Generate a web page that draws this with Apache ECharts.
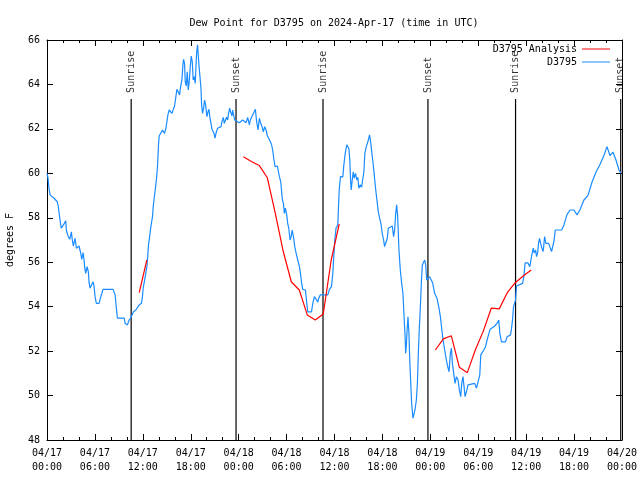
<!DOCTYPE html>
<html><head><meta charset="utf-8">
<script src="https://cdn.jsdelivr.net/npm/echarts@6/dist/echarts.min.js"></script>
<style>html,body{margin:0;padding:0;background:#fff}#c{width:640px;height:480px}</style>
</head><body><div id="c"></div>
<script>
// hours since 2024-04-17 00:00 UTC
const obsHours = [0,0.13,0.25,0.38,0.59,0.88,1.09,1.29,1.42,1.51,
1.63,1.79,2.01,2.17,2.35,2.42,2.63,2.85,3.05,3.17,
3.30,3.51,3.68,3.85,4.01,4.23,4.35,4.52,4.64,4.73,
4.85,5.02,5.18,5.27,5.39,5.61,5.77,5.90,6.02,6.18,
6.52,6.74,7.02,8.28,8.53,8.74,8.82,9.66,9.78,10.07,
10.28,10.5,10.66,10.83,11.13,11.54,11.83,11.95,12.04,12.17,
12.38,12.51,12.58,12.71,12.88,13.01,13.21,13.30,13.42,13.55,
13.71,13.84,13.96,14.05,14.30,14.46,14.59,14.71,14.89,15.01,
15.14,15.30,15.52,15.64,15.84,15.97,16.14,16.27,16.43,16.60,
16.72,16.90,17.02,17.10,17.22,17.31,17.44,17.56,17.69,17.81,
17.94,18.06,18.19,18.31,18.44,18.57,18.65,18.73,18.85,18.98,
19.10,19.28,19.36,19.48,19.61,19.73,19.86,20.03,20.16,20.28,
20.41,20.53,20.66,20.91,21.04,21.16,21.36,21.58,21.79,21.91,
22.08,22.20,22.33,22.49,22.62,22.74,22.87,22.99,23.17,23.24,
23.37,23.50,23.67,24.08,24.30,24.50,24.71,24.93,25.13,25.34,
25.46,25.63,25.75,25.97,26.09,26.25,26.43,26.59,26.76,26.93,
27.09,27.26,27.43,27.60,27.76,27.93,28.10,28.26,28.39,28.56,
28.73,28.85,28.98,29.10,29.27,29.39,29.48,29.60,29.73,29.85,
30.02,30.14,30.27,30.44,30.57,30.70,30.86,31.02,31.20,31.40,
31.61,31.74,31.86,32.02,32.36,32.53,32.65,33.12,33.28,33.49,
33.74,33.91,34.03,34.21,35.16,35.37,35.62,35.79,35.91,36.04,
36.19,36.42,36.50,36.59,36.75,36.92,37.04,37.17,37.34,37.54,
37.79,37.92,38.01,38.09,38.22,38.35,38.47,38.64,38.80,38.92,
39.05,39.22,39.39,39.55,39.68,39.80,39.98,40.18,40.39,40.55,
40.68,40.81,40.98,41.14,41.31,41.48,41.65,41.81,41.98,42.15,
42.27,42.49,42.61,42.74,42.90,43.24,43.40,43.53,43.65,43.78,
43.90,44.07,44.24,44.41,44.57,44.69,44.82,44.91,45.0,45.07,
45.20,45.32,45.41,45.53,45.66,45.82,45.95,46.07,46.25,46.38,
46.50,46.63,46.75,46.88,47.0,47.17,47.29,47.42,47.54,47.70,
47.92,48.13,48.29,48.54,48.83,49.05,49.26,49.42,49.59,49.80,
50.01,50.18,50.34,50.51,50.64,50.76,50.93,51.09,51.27,51.47,
51.64,51.81,51.93,52.09,52.22,52.35,52.52,52.72,52.94,53.56,
53.78,53.98,54.19,54.32,54.53,54.69,54.91,55.11,55.28,55.48,
55.70,56.07,56.28,56.41,56.57,56.70,56.91,57.41,57.62,57.79,
58.04,58.17,58.29,58.42,58.54,58.67,58.79,59.04,59.55,59.71,
59.87,60.21,60.46,60.59,60.75,60.88,61.0,61.18,61.30,61.43,
61.55,61.68,61.80,61.97,62.13,62.31,62.47,62.63,62.81,62.97,
63.18,63.38,63.51,63.64,63.97,64.44,64.73,65.1,65.48,65.98,
66.36,66.73,67.23,67.73,68.24,68.74,69.24,69.74,70.12,70.49,
70.87,71.25,71.62,71.87];
const obsDewpoint = [60.0,59.78,59.33,59.03,58.95,58.88,58.83,58.72,58.50,58.23,
57.90,57.53,57.48,57.75,57.86,57.45,57.18,57.03,57.37,57.0,
56.73,57.08,56.63,56.55,56.73,56.40,56.13,56.43,56.10,55.73,
55.50,55.80,55.57,55.08,54.83,54.83,55.12,54.90,54.45,54.15,
54.15,54.45,54.78,54.78,54.53,53.73,53.48,53.48,53.25,53.18,
53.40,53.50,53.50,53.77,53.85,54.08,54.15,54.45,54.83,55.08,
55.12,55.80,56.10,56.78,57.23,57.60,58.05,58.50,58.88,59.25,
59.75,60.33,61.28,61.68,61.73,61.95,61.95,61.80,62.03,62.33,
62.63,62.85,62.77,62.70,62.70,63.03,63.45,63.78,63.67,63.53,
63.87,64.23,64.88,65.13,64.95,64.12,63.93,64.57,63.75,64.12,
64.80,65.28,65.02,64.20,64.35,64.05,64.80,65.40,65.78,65.10,
64.57,63.83,63.08,62.70,62.93,63.30,63.08,62.55,62.77,62.88,
62.48,62.25,61.98,61.80,61.58,61.80,62.03,62.05,62.10,62.33,
62.52,62.25,62.22,62.52,62.40,62.70,62.93,62.77,62.58,62.85,
62.93,62.40,62.33,62.28,62.25,62.40,62.48,62.28,62.52,62.18,
62.40,62.49,62.63,62.70,62.88,62.33,61.95,62.48,62.25,62.10,
61.87,62.10,61.95,61.68,61.58,61.50,61.32,61.05,60.68,60.30,
60.24,60.33,60.07,59.85,59.62,59.12,58.80,58.65,58.20,58.43,
58.13,57.75,57.53,57.00,57.15,57.45,57.15,56.70,56.40,56.10,
55.80,55.50,55.12,54.78,54.75,54.15,53.77,53.77,54.15,54.45,
54.45,54.21,54.38,54.53,54.53,54.78,54.90,55.50,56.25,57.00,
57.54,57.68,58.50,59.25,59.85,59.93,59.84,60.38,60.90,61.28,
61.13,60.60,59.70,59.25,59.70,60.07,59.78,60.00,59.70,59.82,
59.33,59.48,59.37,59.33,60.07,60.90,61.20,61.42,61.73,61.35,
60.90,60.52,59.93,59.33,58.80,58.27,57.98,57.75,57.30,57.00,
56.70,56.70,57.08,57.53,57.60,57.63,57.15,57.45,58.13,58.58,
58.13,56.55,55.65,55.05,54.60,53.70,52.80,51.90,52.28,52.80,
53.55,52.80,51.75,50.70,49.65,48.98,48.98,49.35,49.80,50.55,
51.90,53.10,54.00,55.12,55.88,55.95,56.10,55.88,55.20,55.28,
55.35,55.35,55.07,54.60,54.38,54.0,53.55,53.03,52.50,52.05,
51.60,51.30,51.07,51.90,52.13,51.45,51.0,50.55,50.85,50.70,
50.25,49.95,50.55,50.85,50.40,49.95,50.17,50.48,50.55,50.55,
50.33,50.25,50.93,51.83,51.90,52.05,52.20,52.50,52.73,52.98,
53.07,53.13,53.13,53.28,53.40,52.80,52.42,52.42,52.65,52.73,
52.73,53.03,53.40,54.0,54.0,54.30,54.93,54.98,55.05,55.35,
55.97,55.97,55.80,56.10,56.40,56.63,56.42,56.55,56.25,56.42,
56.85,57.07,56.87,56.63,56.48,57.15,56.85,56.78,56.85,56.78,
56.48,56.48,57.0,57.45,57.45,57.45,57.68,58.13,58.35,58.35,
58.13,58.35,58.8,59.0,59.6,60.05,60.4,60.8,61.2,60.8,
60.95,60.6,60.15,60.0];

// analysis (hourly), null = gap
const anaHours = [11.55,12.5,null,
24.59,25.59,26.59,27.59,28.59,29.59,30.59,31.59,32.59,33.59,34.59,35.59,36.59,null,
48.63,49.63,50.63,51.63,52.63,53.63,54.63,55.63,56.63,57.63,58.63,59.63,60.63];
const anaDewpoint = [54.63,56.1,null,
60.75,60.53,60.35,59.80,58.2,56.47,55.12,54.75,53.63,53.4,53.67,56.1,57.72,null,
52.05,52.55,52.69,51.27,51.03,52.05,52.9,53.93,53.9,54.63,55.08,55.38,55.65];

const sunHours = [10.54,23.67,34.56,47.7,58.67,71.84];
const sunNames = ['Sunrise','Sunset','Sunrise','Sunset','Sunrise','Sunset'];
const sunLineTop = 63.35;

const xTickLabels = ['04/17\n00:00','04/17\n06:00','04/17\n12:00','04/17\n18:00',
'04/18\n00:00','04/18\n06:00','04/18\n12:00','04/18\n18:00',
'04/19\n00:00','04/19\n06:00','04/19\n12:00','04/19\n18:00','04/20\n00:00'];

const FONT = 'DejaVu Sans Mono';
const BLUE = '#1a8cff';
const RED = '#ff0000';

const obsData = obsHours.map((h,i)=>[h, obsDewpoint[i]]);
const anaData = anaHours.map((h,i)=> h===null ? [null,null] : [h, anaDewpoint[i]]);

const chart = echarts.init(document.getElementById('c'), null, {renderer:'canvas'});

const axisCommon = {
  type:'value', splitLine:{show:false},
  axisLine:{show:true, onZero:false, lineStyle:{color:'#000', width:1}},
  axisTick:{show:true, inside:true, length:6, lineStyle:{color:'#000'}},
};

const sunSeries = sunHours.map((h,i)=>({
  type:'line', xAxisIndex:0, yAxisIndex:0, silent:true, symbol:'none',
  lineStyle:{color:'#000', width:1.2},
  data:[[h,48],[h,sunLineTop]], z:1
}));

const legendText = {fontFamily:FONT, fontSize:10, color:'#000'};

chart.setOption({
  animation:false,
  backgroundColor:'#fff',
  title:{text:'Dew Point for D3795 on 2024-Apr-17 (time in UTC)', left:329, top:13, textAlign:'center',
    textStyle:{fontFamily:FONT, fontSize:10, fontWeight:'normal', color:'#000'}},
  grid:{left:47, right:18, top:40, bottom:40, containLabel:false, outerBoundsMode:'none'},
  legend:[
    {data:['D3795 Analysis'], right:30, top:44, padding:0, align:'right', icon:'rect', itemWidth:28, itemHeight:1,
      textStyle:legendText, selectedMode:false},
    {data:['D3795'], right:30, top:57, padding:0, align:'right', icon:'rect', itemWidth:28, itemHeight:1,
      textStyle:legendText, selectedMode:false}
  ],
  xAxis:[
    Object.assign({}, axisCommon, {position:'bottom', min:0, max:72, interval:6,
      minorTick:{show:true, splitNumber:3, length:3, lineStyle:{color:'#000'}},
      axisLabel:{margin:6, fontFamily:FONT, fontSize:10, color:'#000', lineHeight:14,
        formatter:(v)=> xTickLabels[Math.round(v/6)]}}),
    Object.assign({}, axisCommon, {position:'top', min:0, max:72, interval:6,
      minorTick:{show:true, splitNumber:3, length:3, lineStyle:{color:'#000'}},
      axisLabel:{show:false}})
  ],
  yAxis:[
    Object.assign({}, axisCommon, {position:'left', min:48, max:66, interval:2,
      name:'degrees F', nameLocation:'middle', nameGap:32, nameRotate:90,
      nameTextStyle:{fontFamily:FONT, fontSize:10, color:'#000'},
      axisLabel:{margin:7, fontFamily:FONT, fontSize:10, color:'#000'}}),
    Object.assign({}, axisCommon, {position:'right', min:48, max:66, interval:2, axisLabel:{show:false}})
  ],
  series:[
    ...sunSeries,
    {type:'scatter', silent:true, symbolSize:0, data:sunHours.map((h,i)=>({value:[h,sunLineTop], name:sunNames[i]})),
      label:{show:true, formatter:(p)=>p.name, position:'top', distance:6, rotate:90, align:'left', verticalAlign:'middle',
        fontFamily:FONT, fontSize:10, color:'#000'}},
    {name:'D3795', type:'line', symbol:'none', data:obsData, lineStyle:{color:BLUE, width:1.2}, itemStyle:{color:BLUE}, z:3},
    {name:'D3795 Analysis', type:'line', symbol:'none', data:anaData, connectNulls:false, lineStyle:{color:RED, width:1.2}, itemStyle:{color:RED}, z:4}
  ]
});
</script></body></html>
